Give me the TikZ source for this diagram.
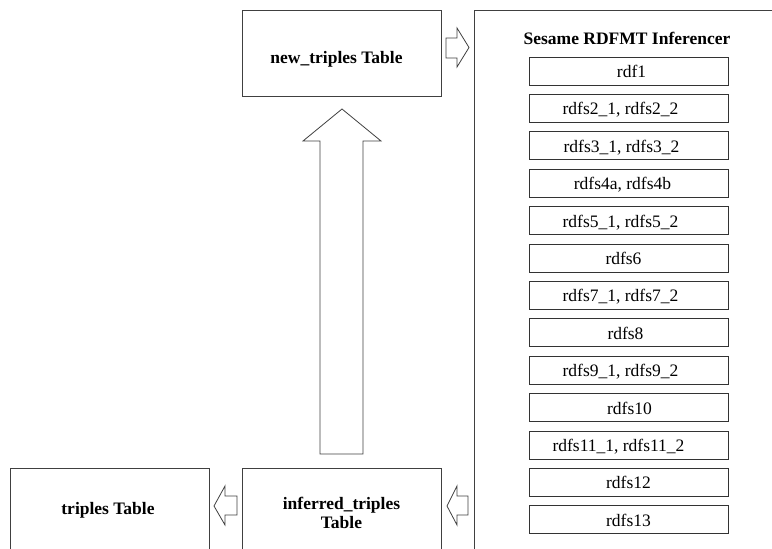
\documentclass[tikz,border=0pt]{standalone}
\usepackage{fontspec}
\setmainfont{Liberation Serif}
\begin{document}
\begin{tikzpicture}[x=1pt,y=-1pt,
  every node/.style={inner sep=0pt,outer sep=0pt},
  bigbox/.style={draw=black!75,line width=1pt,minimum width=199pt,minimum height=86pt},
  bigtext/.style={font=\fontsize{17.5}{17.5}\selectfont\bfseries,align=center,anchor=base},
  rulebox/.style={draw=black!80,line width=1pt,minimum width=199pt,minimum height=28pt},
  ruletext/.style={font=\fontsize{17.5}{18}\selectfont,anchor=base},
  blockarrow/.style={draw=black!75,line width=0.8pt,fill=white,line join=miter}]
\useasboundingbox (0,0) rectangle (772,549);
% container
\node[draw=black!75,line width=1pt,minimum width=330pt,minimum height=560pt,anchor=north west] (cont) at (474,10) {};
\node[font=\fontsize{17.5}{18}\selectfont\bfseries,anchor=base] (title) at (627,44) {Sesame RDFMT Inferencer};
% rule boxes
\foreach \t/\dx [count=\i from 0] in {rdf1/3,{rdfs2\_1, rdfs2\_2}/-8,{rdfs3\_1, rdfs3\_2}/-7,{rdfs4a, rdfs4b}/-6,{rdfs5\_1, rdfs5\_2}/-8,rdfs6/-5,{rdfs7\_1, rdfs7\_2}/-8,rdfs8/-3,{rdfs9\_1, rdfs9\_2}/-8,rdfs10/1,{rdfs11\_1, rdfs11\_2}/-10,rdfs12/0,rdfs13/0}
{
  \node[rulebox] (r\i) at (628.5,{71+37.4*\i}) {};
  \node[ruletext] (t\i) at ([shift={(\dx,6.5)}]r\i.center) {\t};
}
% tables
\node[bigbox] (new) at (341.5,53) {};
\node[bigbox] (inf) at (341.5,511) {};
\node[bigbox] (tri) at (109.5,511) {};
\node[bigtext] (newt) at (336.5,63) {new\_triples Table};
\node[bigtext] (inft1) at (341.5,509) {inferred\_triples};
\node[bigtext] (inft2) at (341.5,528) {Table};
\node[bigtext] (trit) at (108,514) {triples Table};
% up arrow from inferred to new
\draw[blockarrow] (320,454) -- (320,141) -- (303,141) -- (342,109) -- (381,141) -- (363,141) -- (363,454) -- cycle;
% right arrow new -> container
\draw[blockarrow] (446,38) -- (457,38) -- (457,28) -- (469,47.5) -- (457,67) -- (457,58) -- (446,58) -- cycle;
% left arrow container -> inferred
\draw[blockarrow] (468,496) -- (457,496) -- (457,486) -- (447,506) -- (457,525) -- (457,515) -- (468,515) -- cycle;
% left arrow inferred -> triples
\draw[blockarrow] (237,496) -- (225,496) -- (225,486) -- (214,506) -- (225,525) -- (225,515) -- (237,515) -- cycle;
\end{tikzpicture}
\end{document}
